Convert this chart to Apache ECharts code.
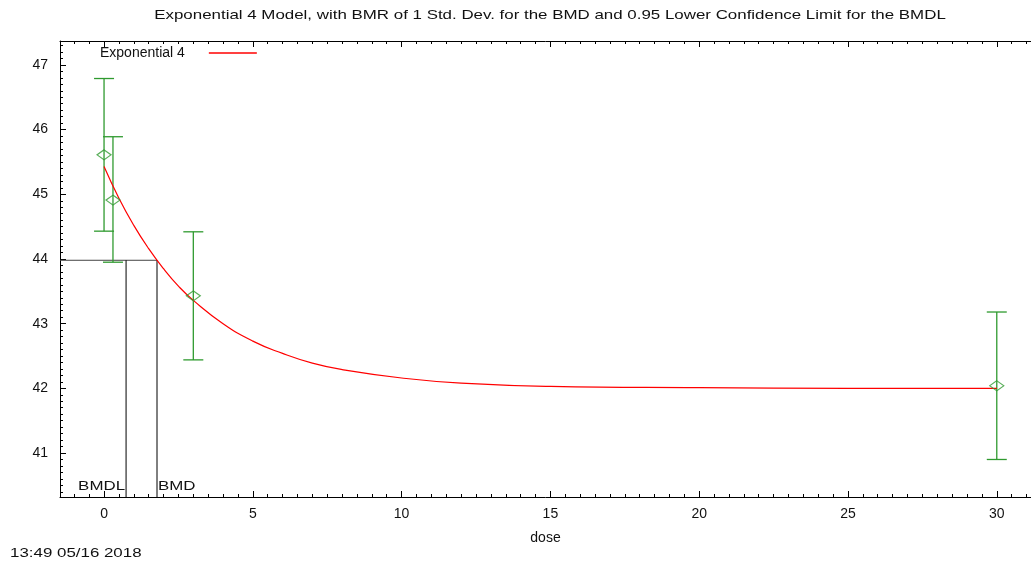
<!DOCTYPE html>
<html>
<head>
<meta charset="utf-8">
<script src="https://cdn.jsdelivr.net/npm/echarts@6/dist/echarts.min.js"></script>
<style>
  html, body { margin: 0; padding: 0; background: #fff; }
  #chart { width: 1031px; height: 561px; }
</style>
</head>
<body>
<div id="chart"></div>
<script>
// observed data: dose groups, means and +/- 1 SD bars
const doses = [0, 0.3, 3, 30];
const means = [45.61, 44.91, 43.43, 42.04];
const lowerBars = [44.43, 43.95, 42.44, 40.9];
const upperBars = [46.79, 45.89, 44.42, 43.18];

// fitted Exponential 4 curve
const curveDose = [0, 0.5, 1, 1.5, 2, 2.5, 3, 4, 5, 6, 7, 8, 10, 12, 15, 20, 25, 30];
const curveResp = [45.43, 44.94, 44.52, 44.16, 43.85, 43.58, 43.36, 43.0, 42.73, 42.54, 42.39, 42.29, 42.16, 42.08, 42.03, 42.01, 42.0, 42.0];

// benchmark dose markers
const bmrLevel = 43.98;
const bmdl = 0.74;
const bmd = 1.78;

// ticks
const xMajor = [0, 5, 10, 15, 20, 25, 30];
const yMajor = [41, 42, 43, 44, 45, 46, 47];

const xMin = -1.48, xMax = 31.15;
const yMin = 40.32, yMax = 47.37;

const xMinor = [];
for (let v = -1; v <= 31; v += 0.5) xMinor.push(v);
const yMinor = [];
for (let v = 40.4; v <= 47.35; v += 0.1) yMinor.push(Math.round(v * 10) / 10);

const font = "Liberation Sans, Arial, sans-serif";
const green = "#2f9a2f";
const stretch = 1.3; // the reference text is drawn a bit wide

function xAxisPair(position) {
  return [
    {
      type: "value", min: xMin, max: xMax, position: position,
      axisLine: { show: true, onZero: false, lineStyle: { color: "#000", width: 1 } },
      axisTick: { show: true, inside: true, length: 6, customValues: xMajor, lineStyle: { color: "#000" } },
      axisLabel: position === "bottom"
        ? { show: true, customValues: xMajor, margin: 10, color: "#111", fontSize: 14, fontFamily: font }
        : { show: false },
      splitLine: { show: false },
      name: position === "bottom" ? "dose" : "",
      nameLocation: "middle", nameGap: 34,
      nameTextStyle: { color: "#111", fontSize: 14, fontFamily: font },
    },
    {
      type: "value", min: xMin, max: xMax, position: position,
      axisLine: { show: false, onZero: false },
      axisTick: { show: true, inside: true, length: 3, customValues: xMinor, lineStyle: { color: "#000" } },
      axisLabel: { show: false },
      splitLine: { show: false },
    },
  ];
}

const chart = echarts.init(document.getElementById("chart"));

chart.setOption({
  animation: false,
  grid: { left: 60, right: 0, top: 41, bottom: 64 },
  legend: {
    left: 100, top: 46, align: "right", padding: 0,
    itemWidth: 48, itemHeight: 1.5, itemGap: 10,
    textStyle: { color: "#111", fontSize: 14, fontFamily: font, padding: [0, 19, 0, 0] },
    data: [{ name: "Exponential 4", icon: "rect" }],
  },
  graphic: [
    {
      type: "text", x: 550, y: 15, scaleX: stretch,
      style: {
        text: "Exponential 4 Model, with BMR of 1 Std. Dev. for the BMD and 0.95 Lower Confidence Limit for the BMDL",
        fill: "#111", font: "13px " + font, align: "center", verticalAlign: "middle",
      },
    },
    {
      type: "text", x: 10, y: 553, scaleX: stretch,
      style: { text: "13:49 05/16 2018", fill: "#111", font: "13px " + font, verticalAlign: "middle" },
    },
  ],
  xAxis: [...xAxisPair("bottom"), ...xAxisPair("top")],
  yAxis: [
    {
      type: "value", min: yMin, max: yMax, position: "left",
      axisLine: { show: true, onZero: false, lineStyle: { color: "#000" } },
      axisTick: { show: true, inside: true, length: 6, customValues: yMajor, lineStyle: { color: "#000" } },
      axisLabel: { show: true, customValues: yMajor, margin: 12, color: "#111", fontSize: 14, fontFamily: font },
      splitLine: { show: false },
    },
    {
      type: "value", min: yMin, max: yMax, position: "left",
      axisLine: { show: false, onZero: false },
      axisTick: { show: true, inside: true, length: 3, customValues: yMinor, lineStyle: { color: "#000" } },
      axisLabel: { show: false },
      splitLine: { show: false },
    },
  ],
  series: [
    {
      name: "Exponential 4",
      type: "line",
      smooth: true,
      symbol: "none",
      data: curveDose.map((d, i) => [d, curveResp[i]]),
      lineStyle: { color: "#ff0000", width: 1.2 },
      itemStyle: { color: "#ff0000" },
      z: 3,
    },
    {
      name: "bars",
      type: "custom",
      data: doses.map((d, i) => [d, lowerBars[i], upperBars[i]]),
      renderItem: function (params, api) {
        const lo = api.coord([api.value(0), api.value(1)]);
        const hi = api.coord([api.value(0), api.value(2)]);
        const style = { stroke: green, lineWidth: 1.3 };
        return {
          type: "group",
          children: [
            { type: "line", shape: { x1: lo[0], y1: lo[1], x2: hi[0], y2: hi[1] }, style: style },
            { type: "line", shape: { x1: lo[0] - 10, y1: lo[1], x2: lo[0] + 10, y2: lo[1] }, style: style },
            { type: "line", shape: { x1: hi[0] - 10, y1: hi[1], x2: hi[0] + 10, y2: hi[1] }, style: style },
          ],
        };
      },
      z: 2,
    },
    {
      name: "means",
      type: "scatter",
      data: doses.map((d, i) => [d, means[i]]),
      symbol: "diamond",
      symbolSize: [14, 10],
      itemStyle: { color: "rgba(255,255,255,0)", borderColor: green, borderWidth: 1.2 },
      z: 4,
    },
    {
      name: "bmd",
      type: "custom",
      data: [[bmdl, bmd, bmrLevel]],
      renderItem: function (params, api) {
        const l = api.value(0), r = api.value(1), lev = api.value(2);
        const left = api.coord([xMin, lev]);
        const pl = api.coord([l, lev]);
        const pr = api.coord([r, lev]);
        const bl = api.coord([l, yMin]);
        const br = api.coord([r, yMin]);
        return {
          type: "group",
          children: [
            { type: "line", shape: { x1: left[0], y1: left[1], x2: pr[0], y2: pr[1] }, style: { stroke: "#444", lineWidth: 1 } },
            { type: "line", shape: { x1: pl[0], y1: pl[1], x2: bl[0], y2: bl[1] }, style: { stroke: "#000", lineWidth: 1 } },
            { type: "line", shape: { x1: pr[0], y1: pr[1], x2: br[0], y2: br[1] }, style: { stroke: "#000", lineWidth: 1 } },
            { type: "text", x: bl[0] - 1, y: bl[1] - 11, scaleX: stretch, style: { text: "BMDL", fill: "#111", font: "13px " + font, align: "right", verticalAlign: "middle" } },
            { type: "text", x: br[0] + 1, y: br[1] - 11, scaleX: stretch, style: { text: "BMD", fill: "#111", font: "13px " + font, align: "left", verticalAlign: "middle" } },
          ],
        };
      },
      z: 1,
    },
  ],
});
</script>
</body>
</html>
